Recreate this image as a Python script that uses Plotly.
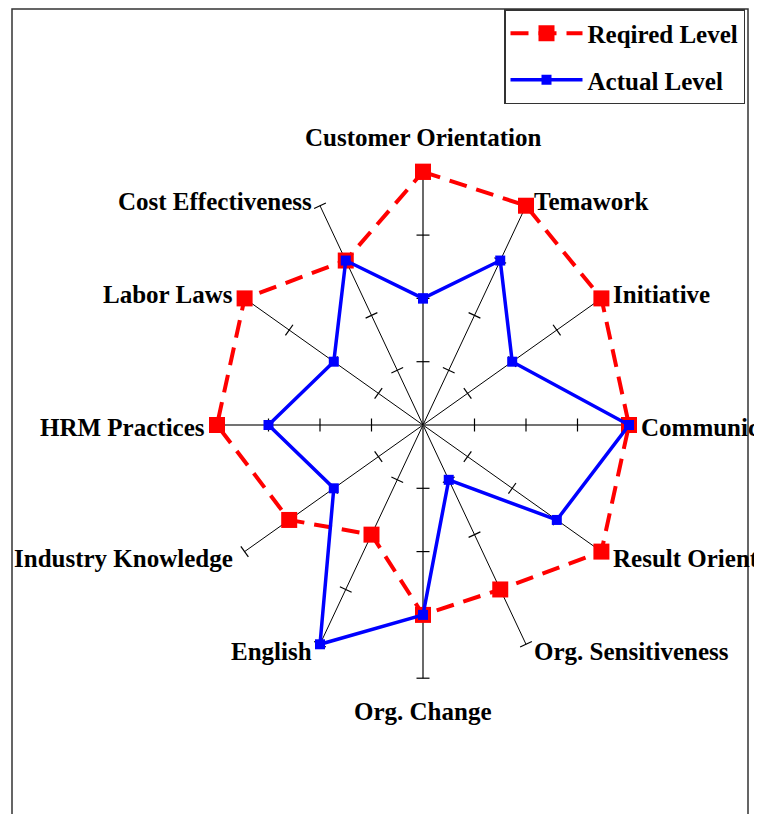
import math
import plotly.graph_objects as go

categories = ["Customer Orientation", "Temawork", "Initiative", "Communication",
              "Result Orientation", "Org. Sensitiveness", "Org. Change", "English",
              "Industry Knowledge", "HRM Practices", "Labor Laws", "Cost Effectiveness"]
required = [4, 4, 4, 4, 4, 3, 3, 2, 3, 4, 4, 3]
actual = [2, 3, 2, 4, 3, 1, 3, 4, 2, 3, 2, 3]
tick_values = [1, 2, 3, 4]
r_max = 4

W, H = 762, 814
OFF = 8                    # page body margin offset
cx, cy = 423 - OFF, 425 - OFF   # centre in figure pixels
sx, sy = 51.5, 63.3        # pixels per unit (horizontal, vertical)

n = len(categories)
angles = [2 * math.pi * i / n for i in range(n)]  # clockwise from north


def xy(r, a):
    return r * math.sin(a), r * math.cos(a)


FONT = "Liberation Serif, Times New Roman, serif"
fig = go.Figure()

# spokes
for i, a in enumerate(angles):
    x1, y1 = xy(r_max, a)
    ortho = (i % 3 == 0)
    fig.add_trace(go.Scatter(x=[0, x1], y=[0, y1], mode="lines",
                             line=dict(color="#444444" if ortho else "#000000",
                                       width=1.6 if ortho else 1),
                             hoverinfo="skip", showlegend=False))

# tick marks
tx, ty = [], []
half = 6.5
for a in angles:
    ux, uy = math.sin(a) * sx, math.cos(a) * sy
    L = math.hypot(ux, uy)
    ux, uy = ux / L, uy / L
    px, py = -uy, ux
    for t in tick_values:
        x0, y0 = xy(t, a)
        tx += [x0 - px * half / sx, x0 + px * half / sx, None]
        ty += [y0 - py * half / sy, y0 + py * half / sy, None]
fig.add_trace(go.Scatter(x=tx, y=ty, mode="lines", line=dict(color="#000000", width=1.2),
                         hoverinfo="skip", showlegend=False))


def closed(vals):
    xs = [xy(v, a)[0] for v, a in zip(vals, angles)]
    ys = [xy(v, a)[1] for v, a in zip(vals, angles)]
    return xs + xs[:1], ys + ys[:1]


rx, ry = closed(required)
fig.add_trace(go.Scatter(x=rx, y=ry, mode="lines+markers", name="Reqired Level",
                         line=dict(color="#ff0000", width=4, dash="18px,10px"),
                         marker=dict(symbol="square", size=16, color="#ff0000"),
                         legendgroup="a"))
ax, ay = closed(actual)
fig.add_trace(go.Scatter(x=ax, y=ay, mode="lines+markers", name="Actual Level",
                         line=dict(color="#0000ff", width=3.5),
                         marker=dict(symbol="square", size=10, color="#0000ff"),
                         legendgroup="b"))

# category labels
for cat, a in zip(categories, angles):
    x0, y0 = xy(r_max, a)
    s, c = math.sin(a), math.cos(a)
    if abs(s) < 1e-6:
        xanchor = "center"
        xshift = 0
        yanchor = "middle"
        yshift = 34 if c > 0 else -33
    else:
        xanchor = "left" if s > 0 else "right"
        gap = 6 if abs(s) < 0.6 else 10
        xshift = gap if s > 0 else -gap
        yanchor = "middle"
        yshift = 4 if c > 0.1 else (-7 if c < -0.1 else -2)
    fig.add_annotation(x=x0, y=y0, text=cat, showarrow=False, xanchor=xanchor,
                       yanchor=yanchor, xshift=xshift, yshift=yshift,
                       font=dict(family=FONT, size=25, color="#000000", weight="bold"))

# outer frame
fig.add_shape(type="rect", xref="paper", yref="paper", x0=(12 - OFF) / W, x1=(748 - OFF) / W,
              y0=-0.02, y1=1 - 1 / H, line=dict(color="#333333", width=1.5))

fig.update_layout(
    width=W, height=H, margin=dict(l=0, r=0, t=0, b=0),
    paper_bgcolor="white", plot_bgcolor="white",
    xaxis=dict(visible=False, range=[-cx / sx, (W - cx) / sx]),
    yaxis=dict(visible=False, range=[-(H - cy) / sy, cy / sy]),
    legend=dict(x=(504 - OFF) / W, y=1 - 1 / H, xanchor="left", yanchor="top",
                bgcolor="white", bordercolor="#333333", borderwidth=1.5,
                font=dict(family=FONT, size=25, color="#000000", weight="bold"),
                traceorder="grouped", tracegroupgap=11, itemwidth=72),
    showlegend=True,
)

fig.write_html("out.html")
